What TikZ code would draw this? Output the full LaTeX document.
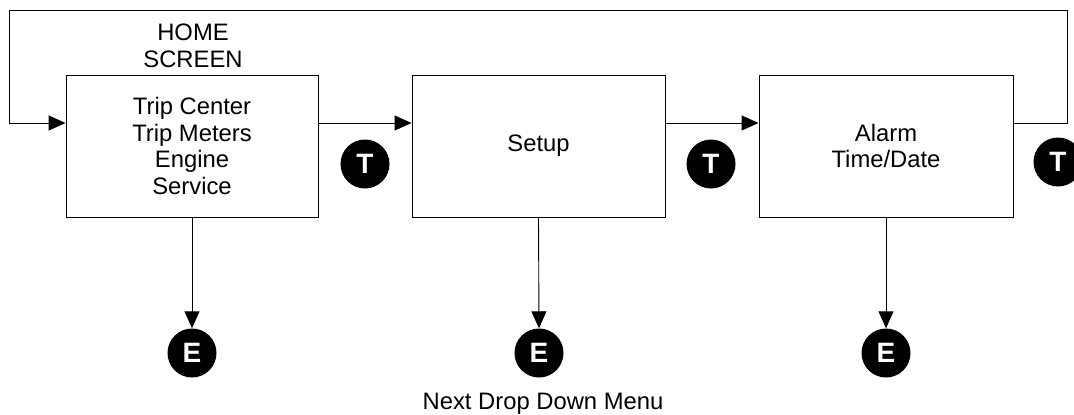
\documentclass[tikz,border=0pt]{standalone}
\usepackage{fontspec}
\setmainfont{Liberation Sans}
\usetikzlibrary{arrows.meta}
\tikzset{
  menubox/.style={draw=black, line width=0.9pt, minimum height=142pt, inner sep=0pt, align=center,
    font=\fontsize{23.8}{26.8}\selectfont},
  key/.style={circle, fill=black, minimum size=49pt, inner sep=0pt, text=white,
    font=\fontsize{28}{30}\selectfont\bfseries},
  conn/.style={line width=0.9pt, draw=black},
  arr/.style={conn, -{Triangle[length=17pt, width=15pt]}},
  lbl/.style={align=center, inner sep=0pt, font=\fontsize{23.8}{27}\selectfont}
}
\begin{document}
\begin{tikzpicture}[x=1pt, y=-1pt]
\useasboundingbox (0,0) rectangle (1074,415);
\fill[white] (0,0) rectangle (1074,415);
% boxes
\node[menubox, minimum width=252pt] (b1) at (192,146) {Trip Center\\Trip Meters\\Engine\\Service};
\node[menubox, minimum width=253pt] (b2) at (538.5,146) {Setup};
\node[menubox, minimum width=254pt] (b3) at (886,146) {Alarm\\Time/Date};
% labels
\node[lbl] (home) at (193,46) {HOME\\SCREEN};
\node[lbl, anchor=base] (next) at (543,409) {Next Drop Down Menu};
% T keys
\node[key] (t1) at (365,164) {T};
\node[key] (t2) at (711,164) {T};
\node[key] (t3) at (1058,162) {T};
% E keys
\node[key] (e1) at (192,353) {E};
\node[key] (e2) at (539,353) {E};
\node[key] (e3) at (886,353) {E};
% loop coordinates
\coordinate (r1) at (1067,123);
\coordinate (r2) at (1067,10);
\coordinate (l1) at (9,10);
\coordinate (l2) at (9,123);
% connectors
\draw[arr] (b3.east |- r1) -- (r1) -- (r2) -- (l1) -- (l2) -- (b1.west |- l2);
\draw[arr] (b1.east |- l2) -- (b2.west |- l2);
\draw[arr] (b2.east |- l2) -- (b3.west |- l2);
\draw[arr] (b1.south) -- (e1.north);
\draw[arr] (b2.south) -- (e2.north);
\draw[arr] (b3.south) -- (e3.north);
\end{tikzpicture}
\end{document}
